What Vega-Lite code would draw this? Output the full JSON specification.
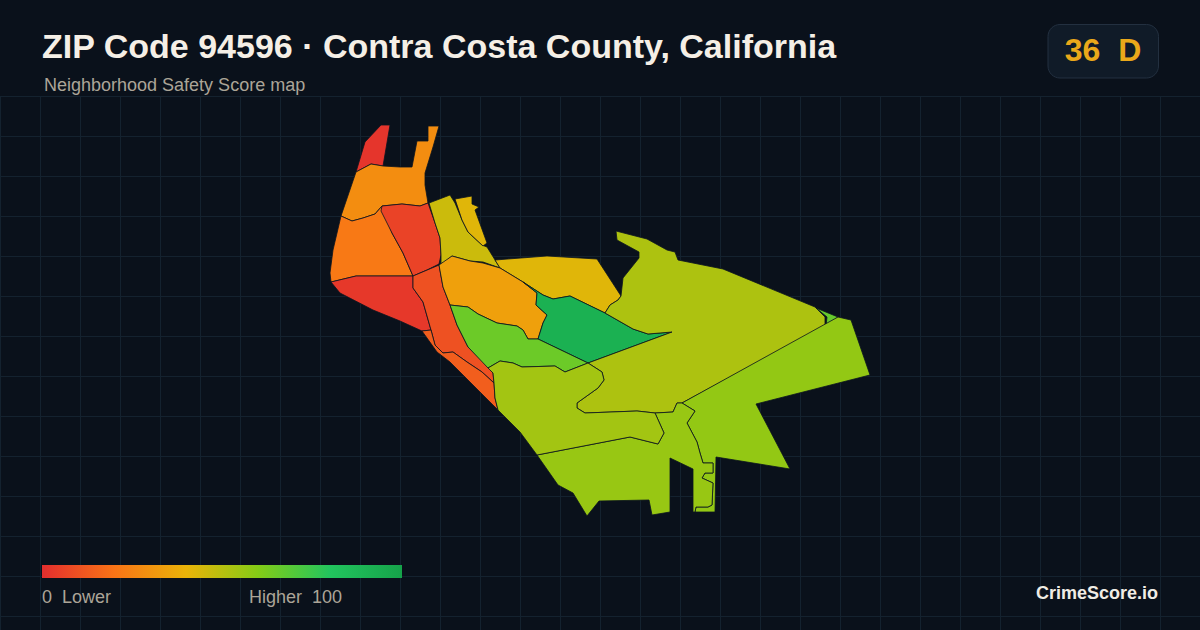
{
  "$schema": "https://vega.github.io/schema/vega-lite/v6.json",
  "width": 1200,
  "height": 630,
  "autosize": "none",
  "padding": 0,
  "background": "#0a111b",
  "config": {"font": "Liberation Sans", "view": {"stroke": null}},
  "title": {
    "text": "ZIP Code 94596 · Contra Costa County, California",
    "anchor": "start",
    "frame": "group",
    "dx": 42,
    "offset": -65,
    "zindex": 1,
    "fontSize": 34,
    "fontWeight": "bold",
    "color": "#f5efe6"
  },
  "layer": [
    {
      "data": {"values": [{}]},
      "mark": {"type": "rect", "fill": "#0a111b"},
      "encoding": {
        "x": {
          "datum": 0,
          "type": "quantitative",
          "scale": {"domain": [0, 1200], "nice": false, "zero": false},
          "axis": {
            "title": null, "domain": false, "ticks": false, "labels": false,
            "grid": true, "gridColor": "#14222f", "gridWidth": 1,
            "values": [0, 40, 80, 120, 160, 200, 240, 280, 320, 360, 400, 440, 480, 520, 560, 600, 640, 680, 720, 760, 800, 840, 880, 920, 960, 1000, 1040, 1080, 1120, 1160]
          }
        },
        "x2": {"datum": 1200},
        "y": {
          "datum": 0,
          "type": "quantitative",
          "scale": {"domain": [630, 0], "nice": false, "zero": false},
          "axis": {
            "title": null, "domain": false, "ticks": false, "labels": false,
            "grid": true, "gridColor": "#14222f", "gridWidth": 1,
            "values": [96, 136, 176, 216, 256, 296, 336, 376, 416, 456, 496, 536, 576, 616]
          }
        },
        "y2": {"datum": 96}
      }
    },
    {
      "data": {"values": [
        {"type": "Feature", "properties": {"id": "a", "score": 2}, "geometry": {"type": "Polygon", "coordinates": [[[-122.244,37.928],[-122.235,37.958],[-122.219,37.975],[-122.21,37.975],[-122.217,37.934],[-122.229,37.936],[-122.244,37.928]]]}},
        {"type": "Feature", "properties": {"id": "b", "score": 28}, "geometry": {"type": "Polygon", "coordinates": [[[-122.244,37.928],[-122.229,37.936],[-122.217,37.934],[-122.2,37.933],[-122.188,37.933],[-122.183,37.959],[-122.172,37.959],[-122.172,37.974],[-122.161,37.974],[-122.167,37.953],[-122.175,37.927],[-122.175,37.915],[-122.172,37.897],[-122.18,37.894],[-122.198,37.896],[-122.218,37.894],[-122.225,37.886],[-122.237,37.882],[-122.248,37.879],[-122.259,37.884],[-122.244,37.928]]]}},
        {"type": "Feature", "properties": {"id": "c", "score": 22}, "geometry": {"type": "Polygon", "coordinates": [[[-122.259,37.884],[-122.248,37.879],[-122.237,37.882],[-122.225,37.886],[-122.218,37.894],[-122.208,37.867],[-122.197,37.847],[-122.187,37.824],[-122.213,37.824],[-122.244,37.824],[-122.269,37.818],[-122.27,37.827],[-122.267,37.85],[-122.259,37.884]]]}},
        {"type": "Feature", "properties": {"id": "d", "score": 6}, "geometry": {"type": "Polygon", "coordinates": [[[-122.218,37.894],[-122.198,37.896],[-122.18,37.894],[-122.172,37.897],[-122.165,37.877],[-122.16,37.862],[-122.159,37.845],[-122.161,37.836],[-122.173,37.83],[-122.187,37.824],[-122.197,37.847],[-122.208,37.867],[-122.219,37.889],[-122.218,37.894]]]}},
        {"type": "Feature", "properties": {"id": "e", "score": 3}, "geometry": {"type": "Polygon", "coordinates": [[[-122.269,37.818],[-122.244,37.824],[-122.213,37.824],[-122.187,37.824],[-122.187,37.812],[-122.177,37.798],[-122.169,37.77],[-122.178,37.769],[-122.2,37.779],[-122.227,37.79],[-122.26,37.807],[-122.269,37.818]]]}},
        {"type": "Feature", "properties": {"id": "f", "score": 10}, "geometry": {"type": "Polygon", "coordinates": [[[-122.187,37.824],[-122.161,37.835],[-122.157,37.813],[-122.15,37.795],[-122.143,37.775],[-122.132,37.753],[-122.111,37.732],[-122.107,37.727],[-122.106,37.717],[-122.118,37.728],[-122.133,37.738],[-122.147,37.748],[-122.157,37.747],[-122.165,37.755],[-122.169,37.77],[-122.177,37.798],[-122.187,37.812],[-122.187,37.824]]]}},
        {"type": "Feature", "properties": {"id": "g", "score": 14}, "geometry": {"type": "Polygon", "coordinates": [[[-122.178,37.769],[-122.169,37.77],[-122.165,37.755],[-122.157,37.747],[-122.147,37.748],[-122.133,37.738],[-122.118,37.728],[-122.106,37.717],[-122.105,37.702],[-122.102,37.69],[-122.11,37.698],[-122.125,37.713],[-122.15,37.738],[-122.163,37.748],[-122.178,37.769]]]}},
        {"type": "Feature", "properties": {"id": "h", "score": 46}, "geometry": {"type": "Polygon", "coordinates": [[[-122.171,37.897],[-122.15,37.905],[-122.145,37.897],[-122.138,37.88],[-122.132,37.868],[-122.118,37.855],[-122.113,37.853],[-122.1,37.832],[-122.117,37.838],[-122.13,37.839],[-122.148,37.844],[-122.154,37.839],[-122.159,37.836],[-122.159,37.845],[-122.16,37.862],[-122.165,37.877],[-122.171,37.897]]]}},
        {"type": "Feature", "properties": {"id": "i", "score": 42}, "geometry": {"type": "Polygon", "coordinates": [[[-122.145,37.901],[-122.128,37.904],[-122.128,37.896],[-122.121,37.893],[-122.125,37.89],[-122.113,37.857],[-122.117,37.854],[-122.132,37.868],[-122.138,37.88],[-122.145,37.901]]]}},
        {"type": "Feature", "properties": {"id": "j", "score": 42}, "geometry": {"type": "Polygon", "coordinates": [[[-122.105,37.84],[-122.053,37.844],[-122.003,37.841],[-121.979,37.804],[-121.982,37.8],[-121.99,37.795],[-121.995,37.787],[-122.03,37.804],[-122.047,37.801],[-122.057,37.805],[-122.077,37.818],[-122.1,37.832],[-122.105,37.84]]]}},
        {"type": "Feature", "properties": {"id": "k", "score": 34}, "geometry": {"type": "Polygon", "coordinates": [[[-122.161,37.835],[-122.148,37.844],[-122.13,37.839],[-122.117,37.837],[-122.1,37.832],[-122.077,37.818],[-122.063,37.807],[-122.064,37.795],[-122.053,37.785],[-122.057,37.777],[-122.062,37.761],[-122.072,37.761],[-122.077,37.77],[-122.083,37.774],[-122.103,37.777],[-122.122,37.786],[-122.132,37.793],[-122.15,37.795],[-122.157,37.813],[-122.161,37.835]]]}},
        {"type": "Feature", "properties": {"id": "l", "score": 92}, "geometry": {"type": "Polygon", "coordinates": [[[-122.077,37.818],[-122.057,37.805],[-122.047,37.801],[-122.03,37.804],[-121.995,37.787],[-121.967,37.771],[-121.952,37.766],[-121.928,37.768],[-122.012,37.737],[-122.062,37.761],[-122.057,37.777],[-122.053,37.785],[-122.064,37.795],[-122.063,37.807],[-122.077,37.818]]]}},
        {"type": "Feature", "properties": {"id": "m", "score": 65}, "geometry": {"type": "Polygon", "coordinates": [[[-122.15,37.795],[-122.132,37.793],[-122.122,37.786],[-122.103,37.777],[-122.083,37.774],[-122.077,37.77],[-122.072,37.761],[-122.062,37.761],[-122.012,37.737],[-122.035,37.728],[-122.045,37.734],[-122.078,37.733],[-122.087,37.737],[-122.1,37.739],[-122.112,37.732],[-122.132,37.753],[-122.143,37.775],[-122.15,37.795]]]}},
        {"type": "Feature", "properties": {"id": "n", "score": 52}, "geometry": {"type": "Polygon", "coordinates": [[[-121.984,37.869],[-121.953,37.861],[-121.933,37.85],[-121.925,37.848],[-121.922,37.84],[-121.877,37.831],[-121.785,37.793],[-121.775,37.783],[-121.775,37.774],[-121.918,37.697],[-121.923,37.697],[-121.927,37.688],[-121.945,37.687],[-121.963,37.689],[-122.015,37.687],[-122.023,37.692],[-122.023,37.697],[-122.002,37.712],[-121.996,37.72],[-121.998,37.728],[-122.012,37.737],[-121.928,37.768],[-121.952,37.766],[-121.967,37.771],[-121.995,37.787],[-121.99,37.795],[-121.982,37.8],[-121.979,37.804],[-121.977,37.822],[-121.961,37.842],[-121.961,37.848],[-121.983,37.86],[-121.984,37.869]]]}},
        {"type": "Feature", "properties": {"id": "p", "score": 66}, "geometry": {"type": "Polygon", "coordinates": [[[-121.784,37.792],[-121.762,37.783],[-121.774,37.774],[-121.773,37.783],[-121.784,37.792]]]}},
        {"type": "Feature", "properties": {"id": "o", "score": 57}, "geometry": {"type": "Polygon", "coordinates": [[[-121.762,37.783],[-121.749,37.78],[-121.73,37.725],[-121.844,37.696],[-121.81,37.631],[-121.884,37.643],[-121.885,37.588],[-121.905,37.588],[-121.904,37.593],[-121.892,37.593],[-121.888,37.595],[-121.887,37.617],[-121.898,37.622],[-121.895,37.627],[-121.887,37.627],[-121.887,37.637],[-121.897,37.637],[-121.9,37.647],[-121.903,37.658],[-121.913,37.677],[-121.905,37.689],[-121.918,37.697],[-121.762,37.783]]]}},
        {"type": "Feature", "properties": {"id": "s", "score": 56}, "geometry": {"type": "Polygon", "coordinates": [[[-122.063,37.645],[-121.97,37.663],[-121.942,37.656],[-121.936,37.667],[-121.945,37.687],[-121.927,37.688],[-121.923,37.697],[-121.918,37.697],[-121.905,37.689],[-121.913,37.677],[-121.903,37.658],[-121.9,37.647],[-121.897,37.637],[-121.887,37.637],[-121.887,37.627],[-121.895,37.627],[-121.898,37.622],[-121.887,37.617],[-121.888,37.595],[-121.892,37.593],[-121.904,37.593],[-121.905,37.588],[-121.907,37.588],[-121.907,37.631],[-121.93,37.642],[-121.93,37.588],[-121.948,37.585],[-121.951,37.6],[-122.001,37.599],[-122.013,37.584],[-122.027,37.607],[-122.042,37.615],[-122.063,37.645]]]}},
        {"type": "Feature", "properties": {"id": "r", "score": 54}, "geometry": {"type": "Polygon", "coordinates": [[[-122.112,37.732],[-122.1,37.739],[-122.087,37.737],[-122.078,37.733],[-122.045,37.734],[-122.035,37.728],[-122.012,37.737],[-121.998,37.728],[-121.996,37.72],[-122.002,37.712],[-122.023,37.697],[-122.023,37.692],[-122.015,37.687],[-121.963,37.689],[-121.945,37.687],[-121.936,37.667],[-121.942,37.656],[-121.97,37.663],[-122.063,37.645],[-122.08,37.668],[-122.102,37.69],[-122.105,37.702],[-122.106,37.717],[-122.107,37.727],[-122.112,37.732]]]}}
      ]},
      "mark": {"type": "geoshape", "stroke": "#0b1420", "strokeWidth": 0.8},
      "projection": {"type": "identity", "reflectY": true, "scale": 1000, "translate": [122600, 38100]},
      "encoding": {
        "color": {
          "field": "properties.score",
          "type": "quantitative",
          "scale": {
            "domain": [0, 20, 40, 60, 80, 100],
            "range": ["#e32e2e", "#f97316", "#eab308", "#84cc16", "#22c55e", "#16a34a"],
            "interpolate": "rgb"
          },
          "legend": {
            "title": null,
            "orient": "none",
            "legendX": 42,
            "legendY": 565,
            "direction": "horizontal",
            "gradientLength": 360,
            "gradientThickness": 13,
            "gradientStrokeWidth": 0,
            "values": [0, 70.4],
            "labelExpr": "datum.value == 0 ? '0\u00a0\u00a0Lower' : 'Higher\u00a0\u00a0100'",
            "labelFontSize": 18,
            "labelColor": "#aca598",
            "labelOffset": 11,
            "labelOverlap": false
          }
        }
      }
    },
    {
      "data": {"values": [{"subtitle": "Neighborhood Safety Score map"}]},
      "mark": {"type": "text", "align": "left", "baseline": "alphabetic", "fontSize": 18, "color": "#aca598"},
      "encoding": {
        "x": {"datum": 44, "type": "quantitative"},
        "y": {"datum": 91, "type": "quantitative"},
        "text": {"field": "subtitle"}
      }
    },
    {
      "data": {"values": [{"site": "CrimeScore.io"}]},
      "mark": {"type": "text", "align": "right", "fontSize": 18, "fontWeight": "bold", "color": "#f0ece5"},
      "encoding": {
        "x": {"datum": 1158, "type": "quantitative"},
        "y": {"datum": 594, "type": "quantitative"},
        "text": {"field": "site"}
      }
    },
    {
      "data": {"values": [{}]},
      "mark": {"type": "rect", "fill": "#101b28", "stroke": "#233040", "strokeWidth": 1, "cornerRadius": 12},
      "encoding": {
        "x": {"datum": 1048, "type": "quantitative"},
        "x2": {"datum": 1158.5},
        "y": {"datum": 24.5, "type": "quantitative"},
        "y2": {"datum": 78}
      }
    },
    {
      "data": {"values": [{"badge": "36\u00a0\u00a0D"}]},
      "mark": {"type": "text", "align": "center", "fontSize": 32, "fontWeight": "bold", "color": "#eaa81a"},
      "encoding": {
        "x": {"datum": 1103, "type": "quantitative"},
        "y": {"datum": 51, "type": "quantitative"},
        "text": {"field": "badge"}
      }
    }
  ]
}
